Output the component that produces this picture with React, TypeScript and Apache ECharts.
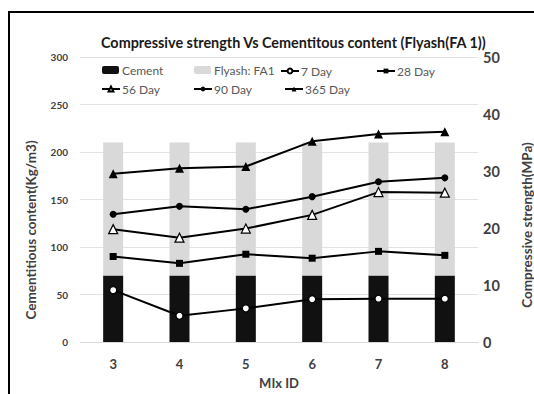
import React, { useEffect, useRef } from "react";
import * as echarts from "echarts";

const categories = ["3", "4", "5", "6", "7", "8"];
const cement = [70, 70, 70, 70, 70, 70];
const flyash = [140, 140, 140, 140, 140, 140];
const day7 = [9.1, 4.6, 5.9, 7.5, 7.6, 7.6];
const day28 = [15.0, 13.8, 15.4, 14.7, 15.9, 15.2];
const day56 = [19.8, 18.3, 19.9, 22.3, 26.3, 26.2];
const day90 = [22.4, 23.8, 23.3, 25.5, 28.1, 28.8];
const day365 = [29.5, 30.5, 30.8, 35.2, 36.5, 36.9];

const FONT = "Lato";

export default function App() {
  const ref = useRef<HTMLDivElement>(null);
  useEffect(() => {
    if (!ref.current) return;
    const chart = echarts.init(ref.current, null, { renderer: "svg" });
    const lineSeries = (name: string, data: number[], symbol: string, size: number, fill: string) => ({
      name,
      type: "line",
      yAxisIndex: 1,
      data,
      symbol,
      symbolSize: size,
      showSymbol: true,
      itemStyle: { color: fill, borderColor: "#000", borderWidth: fill === "#fff" ? 1.2 : 0 },
      lineStyle: { color: "#000", width: 2 },
      z: 5,
    });
    const legendBase = {
      orient: "horizontal",
      padding: 0,
      itemWidth: 18,
      itemHeight: 6,
      itemGap: 0,
      textStyle: { fontFamily: FONT, fontSize: 12, color: "#595959", padding: [0, 0, 0, -3] },
    };
    const leg = (name: string, left: number, top: number, extra: any = {}) => ({
      ...legendBase,
      data: [name],
      left,
      top,
      ...extra,
    });
    chart.setOption({
      animation: false,
      backgroundColor: "#fff",
      title: {
        text: "Compressive strength Vs Cementitous content (Flyash(FA 1))",
        left: 96,
        top: 30,
        textStyle: { fontFamily: FONT, fontSize: 14.4, fontWeight: "bold", color: "#1a1a1a" },
      },
      legend: [
        leg("Cement", 102, 64, { itemWidth: 17, itemHeight: 8, textStyle: { ...legendBase.textStyle, padding: [0, 0, 0, -2] } }),
        leg("Flyash: FA1", 194, 64, { itemWidth: 17, itemHeight: 8, textStyle: { ...legendBase.textStyle, padding: [0, 0, 0, -2] } }),
        leg("7 Day", 280, 65),
        leg("28 Day", 376, 65),
        leg("56 Day", 101, 83),
        leg("90 Day", 193, 83),
        leg("365 Day", 284, 83),
      ],
      grid: { left: 80, right: 56, top: 57, bottom: 51 },
      xAxis: {
        type: "category",
        data: categories,
        name: "MIx ID",
        nameLocation: "middle",
        nameGap: 34,
        nameTextStyle: { fontFamily: FONT, fontSize: 13, fontWeight: "bold", color: "#404040" },
        axisLine: { lineStyle: { color: "#d9d9d9" } },
        axisTick: { show: false },
        axisLabel: { fontFamily: FONT, fontSize: 13, fontWeight: "bold", color: "#404040", margin: 15 },
      },
      yAxis: [
        {
          type: "value",
          min: 0,
          max: 300,
          interval: 50,
          axisLine: { show: false },
          axisTick: { show: false },
          splitLine: { lineStyle: { color: "#e3e3e3" } },
          axisLabel: { fontFamily: FONT, fontSize: 10, fontWeight: "bold", color: "#404040", margin: 12 },
        },
        {
          type: "value",
          min: 0,
          max: 50,
          interval: 10,
          position: "right",
          axisLine: { show: false },
          axisTick: { show: false },
          splitLine: { show: false },
          axisLabel: { fontFamily: FONT, fontSize: 14.5, fontWeight: "bold", color: "#404040", margin: 5 },
        },
      ],
      graphic: [
        {
          type: "rect",
          shape: { x: 9, y: 12, width: 600, height: 500 },
          style: { fill: "none", stroke: "#000", lineWidth: 2 },
          silent: true,
        },
        {
          type: "text",
          x: 31,
          y: 230,
          rotation: Math.PI / 2,
          style: {
            text: "Cementitious content(Kg/m3)",
            fontFamily: FONT,
            fontSize: 13.5,
            fontWeight: "bold",
            fill: "#404040",
            textAlign: "center",
            textVerticalAlign: "middle",
          },
        },
        {
          type: "text",
          x: 527,
          y: 225,
          rotation: Math.PI / 2,
          style: {
            text: "Compressive strength(MPa)",
            fontFamily: FONT,
            fontSize: 13.5,
            fontWeight: "bold",
            fill: "#404040",
            textAlign: "center",
            textVerticalAlign: "middle",
          },
        },
      ],
      series: [
        {
          name: "Cement",
          type: "bar",
          stack: "c",
          data: cement,
          barWidth: 20,
          itemStyle: { color: "#111111" },
        },
        {
          name: "Flyash: FA1",
          type: "bar",
          stack: "c",
          data: flyash,
          barWidth: 20,
          itemStyle: { color: "#d9d9d9" },
        },
        lineSeries("7 Day", day7, "circle", 7, "#fff"),
        lineSeries("28 Day", day28, "rect", 7, "#000"),
        lineSeries("56 Day", day56, "triangle", 9, "#fff"),
        lineSeries("90 Day", day90, "circle", 7, "#000"),
        lineSeries("365 Day", day365, "triangle", 9, "#000"),
      ],
    });
    return () => chart.dispose();
  }, []);
  return (
    <div
      ref={ref}
      style={{ position: "fixed", left: 0, top: 0, width: 534, height: 394 }}
    />
  );
}
